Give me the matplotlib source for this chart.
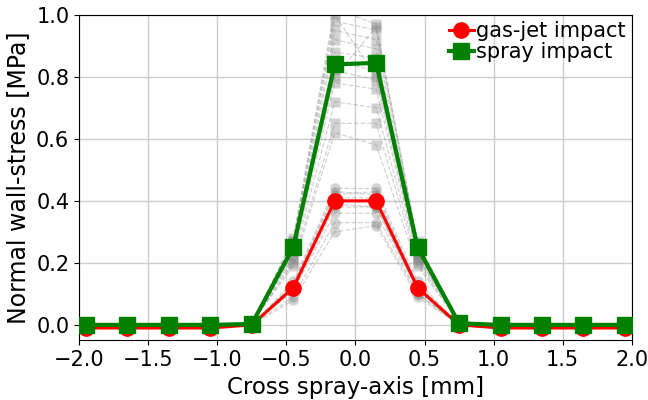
import matplotlib
matplotlib.use("Agg")
import matplotlib.pyplot as plt
import numpy as np

x_mm = [-1.95, -1.65, -1.35, -1.05, -0.75, -0.45, -0.15, 0.15, 0.45, 0.75, 1.05, 1.35, 1.65, 1.95]

gas_mean = [-0.01, -0.01, -0.01, -0.01, 0.0, 0.12, 0.40, 0.40, 0.12, 0.0, -0.01, -0.01, -0.01, -0.01]
spray_mean = [0.0, 0.0, 0.0, 0.0, 0.003, 0.25, 0.84, 0.845, 0.25, 0.005, 0.0, 0.0, 0.0, 0.0]

# individual injections (grey background)
gas_runs = [
    [-0.01, -0.01, -0.01, -0.01, 0.0, 0.14, 0.44, 0.44, 0.14, 0.0, -0.01, -0.01, -0.01, -0.01],
    [-0.01, -0.01, -0.01, -0.01, 0.0, 0.13, 0.43, 0.42, 0.13, 0.0, -0.01, -0.01, -0.01, -0.01],
    [-0.01, -0.01, -0.01, -0.01, 0.0, 0.13, 0.42, 0.43, 0.12, 0.0, -0.01, -0.01, -0.01, -0.01],
    [-0.01, -0.01, -0.01, -0.01, 0.0, 0.12, 0.41, 0.41, 0.12, 0.0, -0.01, -0.01, -0.01, -0.01],
    [-0.01, -0.01, -0.01, -0.01, 0.0, 0.12, 0.39, 0.38, 0.11, 0.0, -0.01, -0.01, -0.01, -0.01],
    [-0.01, -0.01, -0.01, -0.01, 0.0, 0.11, 0.38, 0.38, 0.11, 0.0, -0.01, -0.01, -0.01, -0.01],
    [-0.01, -0.01, -0.01, -0.01, 0.0, 0.11, 0.36, 0.36, 0.10, 0.0, -0.01, -0.01, -0.01, -0.01],
    [-0.01, -0.01, -0.01, -0.01, 0.0, 0.09, 0.33, 0.33, 0.10, 0.0, -0.01, -0.01, -0.01, -0.01],
    [-0.01, -0.01, -0.01, -0.01, 0.0, 0.08, 0.30, 0.32, 0.09, 0.0, -0.01, -0.01, -0.01, -0.01],
]
spray_runs = [
    [0.0, 0.0, 0.0, 0.0, 0.005, 0.28, 1.02, 0.97, 0.27, 0.01, 0.0, 0.0, 0.0, 0.0],
    [0.0, 0.0, 0.0, 0.0, 0.005, 0.27, 0.98, 0.95, 0.26, 0.01, 0.0, 0.0, 0.0, 0.0],
    [0.0, 0.0, 0.0, 0.0, 0.005, 0.27, 1.00, 0.80, 0.25, 0.01, 0.0, 0.0, 0.0, 0.0],
    [0.0, 0.0, 0.0, 0.0, 0.005, 0.26, 0.95, 0.92, 0.25, 0.01, 0.0, 0.0, 0.0, 0.0],
    [0.0, 0.0, 0.0, 0.0, 0.005, 0.25, 0.80, 0.96, 0.26, 0.01, 0.0, 0.0, 0.0, 0.0],
    [0.0, 0.0, 0.0, 0.0, 0.005, 0.25, 0.92, 0.89, 0.24, 0.01, 0.0, 0.0, 0.0, 0.0],
    [0.0, 0.0, 0.0, 0.0, 0.005, 0.24, 0.88, 0.86, 0.25, 0.01, 0.0, 0.0, 0.0, 0.0],
    [0.0, 0.0, 0.0, 0.0, 0.005, 0.25, 0.85, 0.82, 0.23, 0.01, 0.0, 0.0, 0.0, 0.0],
    [0.0, 0.0, 0.0, 0.0, 0.005, 0.23, 0.82, 0.79, 0.22, 0.01, 0.0, 0.0, 0.0, 0.0],
    [0.0, 0.0, 0.0, 0.0, 0.005, 0.22, 0.78, 0.76, 0.22, 0.01, 0.0, 0.0, 0.0, 0.0],
    [0.0, 0.0, 0.0, 0.0, 0.005, 0.21, 0.72, 0.70, 0.21, 0.01, 0.0, 0.0, 0.0, 0.0],
    [0.0, 0.0, 0.0, 0.0, 0.005, 0.20, 0.65, 0.65, 0.20, 0.01, 0.0, 0.0, 0.0, 0.0],
    [0.0, 0.0, 0.0, 0.0, 0.005, 0.19, 0.62, 0.58, 0.19, 0.01, 0.0, 0.0, 0.0, 0.0],
]


def main():
    fig = plt.figure(figsize=(6.48, 4.0), dpi=100)
    ax = fig.add_axes([0.122, 0.149, 0.853, 0.814])

    for run in spray_runs:
        ax.plot(x_mm, run, ls="--", lw=0.9, color="gray", alpha=0.35,
                marker="s", ms=7.5, mec="none")
    for run in gas_runs:
        ax.plot(x_mm, run, ls="--", lw=0.9, color="gray", alpha=0.35,
                marker="o", ms=7.5, mec="none")

    ax.plot(x_mm, gas_mean, color="red", lw=2.2, marker="o", ms=11,
            label="gas-jet impact", zorder=5)
    ax.plot(x_mm, spray_mean, color="green", lw=3, marker="s", ms=11,
            label="spray impact", zorder=6)

    ax.set_xlim(-2.0, 2.0)
    ax.set_ylim(-0.05, 1.0)
    ax.set_xticks(np.arange(-2.0, 2.01, 0.5))
    ax.set_yticks(np.arange(0.0, 1.01, 0.2))
    ax.tick_params(labelsize=15)
    ax.set_xlabel("Cross spray-axis [mm]", fontsize=16.5)
    ax.set_ylabel("Normal wall-stress [MPa]", fontsize=17)
    ax.grid(color="#cccccc", lw=1)
    ax.set_axisbelow(True)
    ax.legend(loc="upper right", frameon=False, fontsize=15, handlelength=1.2,
              handletextpad=0.1, labelspacing=0.05, borderpad=0.1,
              borderaxespad=0.2)

    fig.savefig("out.png", dpi=100)


if __name__ == "__main__":
    main()
